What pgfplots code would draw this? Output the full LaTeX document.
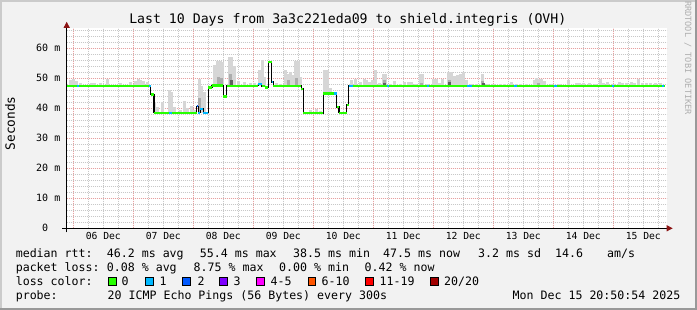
\documentclass[border=0pt]{standalone}
\usepackage{fontspec}
\setmonofont{DejaVu Sans Mono}
\usepackage{pgfplots}
\pgfplotsset{compat=1.18}
\usetikzlibrary{arrows.meta}
\definecolor{bg}{RGB}{242,242,242}
\definecolor{shadeA}{RGB}{203,203,203}
\definecolor{shadeB}{RGB}{153,153,153}
\definecolor{mgrid}{RGB}{232,160,160}
\definecolor{lgrid}{RGB}{200,200,200}
\definecolor{arrowred}{RGB}{140,20,20}
\definecolor{smokeL}{RGB}{214,214,214}
\definecolor{smokeM}{RGB}{172,172,172}
\definecolor{smokeD}{RGB}{95,95,95}
\definecolor{c0}{HTML}{26FF00}
\definecolor{c1}{HTML}{00B8FF}
\definecolor{c2}{HTML}{0059FF}
\definecolor{c3}{HTML}{7E00FF}
\definecolor{c45}{HTML}{FF00FF}
\definecolor{c610}{HTML}{FF5500}
\definecolor{c1119}{HTML}{FF0000}
\definecolor{c2020}{HTML}{A10000}
\definecolor{wm}{RGB}{175,175,175}
\newcommand\tf[1]{\ttfamily\fontsize{#1}{#1}\selectfont}
\begin{document}
\begin{tikzpicture}
\useasboundingbox (0,0) rectangle (697pt,310pt);
\fill[bg] (0,0) rectangle (697pt,310pt);
\fill[shadeA] (0,0) rectangle (2pt,310pt);
\fill[shadeA] (0,308pt) rectangle (697pt,310pt);
\fill[shadeB] (695pt,0) rectangle (697pt,310pt);
\fill[shadeB] (0,0) rectangle (697pt,2pt);
\begin{axis}[
  at={(66.7pt,81.7pt)}, anchor=south west, scale only axis,
  width=600pt, height=200pt,
  xmin=-0.11, xmax=9.89, ymin=0, ymax=66.67,
  axis lines=left,
  axis background/.style={fill=white},
  x axis line style={line width=1pt, -{Triangle[length=6pt,width=6pt,color=arrowred]}, shorten >=-6pt, shorten <=-4.5pt},
  y axis line style={line width=1pt, -{Triangle[length=6pt,width=6pt,color=arrowred]}, shorten >=-6.5pt, shorten <=-4pt},
  xtick={0,1,...,9}, xticklabels={},
  minor xtick={0,0.25,...,9.75},
  extra x ticks={0.5,1.5,...,9.5},
  extra x tick labels={06 Dec,07 Dec,08 Dec,09 Dec,10 Dec,11 Dec,12 Dec,13 Dec,14 Dec,15 Dec},
  extra x tick style={grid=none},
  ytick={0,10,...,60},
  yticklabels={{0\hphantom{mm}},10 m,20 m,30 m,40 m,50 m,60 m},
  minor ytick={2,4,...,66},
  xmajorgrids, xminorgrids, ymajorgrids, yminorgrids,
  major grid style={draw=mgrid, line width=1pt, dash pattern=on 1pt off 1pt},
  minor grid style={draw=lgrid, line width=1pt, dash pattern=on 1pt off 1pt},
  major tick length=0pt, minor tick length=0pt,
  tick style={draw=none},
  xticklabel style={anchor=base, yshift=-11.7pt, font=\tf{9.7}},
  yticklabel style={anchor=east, inner sep=0pt, xshift=-6.2pt, font=\tf{10}},
  unbounded coords=jump,
  clip=true,
]
% smoke: light
\addplot[draw=none, mark=none, forget plot,
  error bars/.cd, y dir=plus, y explicit, error mark=none,
  error bar style={draw=smokeL, line width=3pt}]
 table[x=x, y=y, y error=e] {
x y e
-0.05 47.5 2.0
0.00 47.5 2.4
0.05 47.5 1.5
0.12 47.5 1.0
0.30 47.5 0.8
0.36 47.5 1.0
0.45 47.5 0.9
0.57 47.5 2.4
0.78 47.5 1.0
0.95 47.5 1.3
1.04 47.5 1.5
1.08 47.5 2.4
1.12 47.5 1.8
1.17 47.5 1.5
1.23 47.5 1.2
1.36 38.5 3.6
1.40 38.5 2.0
1.49 38.5 3.6
1.60 38.5 7.7
1.64 38.5 7.0
1.69 38.5 1.9
1.78 38.5 1.0
1.86 38.5 3.8
1.91 38.5 1.5
1.97 38.5 2.4
2.02 38.5 1.0
2.10 38.5 11.4
2.14 38.5 9.0
2.19 38.5 7.1
2.36 47.5 6.9
2.41 47.5 8.3
2.45 47.5 8.3
2.49 47.5 8.0
2.60 47.5 9.6
2.64 47.5 9.6
2.69 47.5 6.5
2.75 47.5 1.5
2.85 47.5 1.4
2.95 47.5 1.0
3.02 47.5 0.8
3.10 47.5 5.2
3.16 47.5 8.5
3.19 47.5 3.0
3.38 47.5 0.8
3.45 47.5 0.6
3.53 47.5 5.2
3.57 47.5 4.1
3.62 47.5 4.5
3.67 47.5 3.5
3.71 47.5 8.3
3.75 47.5 8.3
3.79 47.5 2.9
3.95 38.4 1.0
4.05 38.4 1.3
4.12 38.4 0.8
4.19 44.9 7.8
4.23 44.9 7.8
4.28 44.9 2.0
4.63 47.5 1.9
4.70 47.5 2.4
4.78 47.5 1.2
4.85 47.5 2.4
4.89 47.5 1.8
4.93 47.5 1.3
4.99 47.5 1.8
5.03 47.5 5.4
5.10 47.5 0.8
5.17 47.5 4.1
5.20 47.5 4.1
5.28 47.5 0.6
5.36 47.5 1.6
5.45 47.5 0.7
5.52 47.5 1.3
5.58 47.5 1.2
5.63 47.5 1.3
5.70 47.5 0.6
5.78 47.5 4.0
5.82 47.5 4.0
5.90 47.5 0.7
6.00 47.5 2.4
6.05 47.5 2.4
6.10 47.5 0.8
6.16 47.5 2.4
6.25 47.5 4.6
6.30 47.5 4.6
6.35 47.5 3.3
6.40 47.5 3.5
6.45 47.5 3.8
6.50 47.5 4.7
6.55 47.5 2.0
6.63 47.5 0.7
6.72 47.5 0.5
6.82 47.5 4.0
6.90 47.5 0.6
7.00 47.5 0.5
7.12 47.5 0.7
7.18 47.5 0.7
7.30 47.5 1.3
7.38 47.5 0.5
7.45 47.5 0.7
7.55 47.5 0.7
7.68 47.5 2.0
7.72 47.5 2.6
7.76 47.5 2.3
7.81 47.5 2.3
7.86 47.5 1.5
7.97 47.5 0.7
8.10 47.5 0.5
8.25 47.5 1.8
8.38 47.5 1.0
8.44 47.5 0.8
8.50 47.5 1.0
8.60 47.5 0.8
8.70 47.5 0.5
8.78 47.5 2.4
8.83 47.5 1.0
8.90 47.5 1.4
9.00 47.5 0.6
9.10 47.5 1.2
9.16 47.5 1.0
9.22 47.5 1.0
9.30 47.5 1.3
9.36 47.5 0.8
9.42 47.5 2.4
9.48 47.5 1.0
9.55 47.5 0.8
9.62 47.5 1.0
9.70 47.5 0.8
9.78 47.5 0.8
};
% smoke: medium
\addplot[draw=none, mark=none, forget plot,
  error bars/.cd, y dir=plus, y explicit, error mark=none,
  error bar style={draw=smokeM, line width=3pt}]
 table[x=x, y=y, y error=e] {
x y e
2.10 38.5 5.0
2.42 47.5 3.0
2.47 47.5 2.5
2.62 47.5 4.0
3.58 47.5 2.0
3.72 47.5 2.5
5.18 47.5 2.0
5.80 47.5 1.0
6.27 47.5 2.0
6.82 47.5 1.5
7.75 47.5 0.8
};
% smoke: dark
\addplot[draw=none, mark=none, forget plot,
  error bars/.cd, y dir=plus, y explicit, error mark=none,
  error bar style={draw=smokeD, line width=3pt}]
 table[x=x, y=y, y error=e] {
x y e
2.63 47.5 2.0
5.19 47.5 1.0
6.27 47.5 1.2
6.83 47.5 0.8
};
% median, black steps
\addplot[black, line width=1.2pt, const plot mark left, mark=none] table {
x y
-0.11 47.5
1.29 44.6
1.345 38.5
2.057 40.7
2.083 38.5
2.117 39.8
2.167 38.5
2.25 46.9
2.312 47.6
2.50 43.9
2.557 47.5
3.083 48.1
3.14 47.4
3.20 46.9
3.25 55.4
3.307 48.8
3.333 47.5
3.80 46.5
3.833 38.4
4.167 44.9
4.39 40.4
4.428 38.5
4.557 41.1
4.59 47.5
9.86 47.5
};
% median, loss colour 0
\addplot[c0, line width=2.4pt, jump mark left, mark=none] table {
x y
-0.11 47.5
1.29 44.6
1.345 38.5
2.057 40.7
2.083 38.5
2.117 39.8
2.167 38.5
2.25 46.9
2.312 47.6
2.50 43.9
2.557 47.5
3.083 48.1
3.14 47.4
3.20 46.9
3.25 55.4
3.307 48.8
3.333 47.5
3.80 46.5
3.833 38.4
4.167 44.9
4.39 40.4
4.428 38.5
4.557 41.1
4.59 47.5
9.86 47.5
};
% median, loss colour 1
\addplot[c1, line width=2.4pt, mark=none] coordinates {
(0.067,47.5) (0.095,47.5) (0.1,nan)
(1.262,47.5) (1.29,47.5) (1.3,nan)
(1.60,38.5) (1.64,38.5) (1.65,nan)
(2.083,38.5) (2.117,38.5) (2.12,nan)
(2.117,39.8) (2.167,39.8) (2.17,nan)
(2.167,38.5) (2.25,38.5) (2.26,nan)
(3.083,48.1) (3.14,48.1) (3.15,nan)
(3.307,48.8) (3.333,48.8) (3.34,nan)
(4.35,44.9) (4.39,44.9) (4.4,nan)
(4.59,47.5) (4.667,47.5) (4.67,nan)
(5.233,47.5) (5.267,47.5) (5.27,nan)
(5.89,47.5) (5.928,47.5) (5.93,nan)
(6.567,47.5) (6.64,47.5) (6.65,nan)
(7.345,47.5) (7.39,47.5) (7.4,nan)
(8.012,47.5) (8.057,47.5) (8.06,nan)
(8.973,47.5) (9.012,47.5) (9.02,nan)
(9.807,47.5) (9.845,47.5)
};
% median, loss colour 2
\addplot[c2, line width=2.4pt, mark=none] coordinates {
(2.057,40.7) (2.083,40.7)
};
\end{axis}
% title and labels
\node[anchor=base, inner sep=0pt, font=\tf{13.2}] at (347.8pt,286.1pt) {Last 10 Days from 3a3c221eda09 to shield.integris (OVH)};
\node[anchor=base, inner sep=0pt, rotate=90, font=\tf{12.8}] at (15pt,186.7pt) {Seconds};
\node[anchor=base, inner sep=0pt, rotate=-90, text=wm, font=\tf{8.6}] at (685pt,252pt) {RRDTOOL / TOBI OETIKER};
% legend rows
\tikzset{lg/.style={anchor=base west, inner sep=0pt, font=\tf{11.6}}}
\node[lg] at (15.6pt,52.3pt) {median rtt:};
\node[lg] at (106.7pt,52.3pt) {46.2 ms avg};
\node[lg] at (199.7pt,52.3pt) {55.4 ms max};
\node[lg] at (293pt,52.3pt) {38.5 ms min};
\node[lg] at (383pt,52.3pt) {47.5 ms now};
\node[lg] at (478pt,52.3pt) {3.2 ms sd};
\node[lg] at (555pt,52.3pt) {14.6};
\node[lg] at (607pt,52.3pt) {am/s};
\node[lg] at (15.6pt,38.2pt) {packet loss:};
\node[lg] at (106.7pt,38.2pt) {0.08 \% avg};
\node[lg] at (193.5pt,38.2pt) {8.75 \% max};
\node[lg] at (279pt,38.2pt) {0.00 \% min};
\node[lg] at (364.5pt,38.2pt) {0.42 \% now};
\node[lg] at (15.6pt,24.1pt) {loss color:};
\filldraw[fill=c0, draw=black, line width=0.8pt] (108.4pt,24.4pt) rectangle (116.2pt,32.2pt);
\filldraw[fill=c1, draw=black, line width=0.8pt] (145.7pt,24.4pt) rectangle (153.5pt,32.2pt);
\filldraw[fill=c2, draw=black, line width=0.8pt] (182.4pt,24.4pt) rectangle (190.2pt,32.2pt);
\filldraw[fill=c3, draw=black, line width=0.8pt] (219.4pt,24.4pt) rectangle (227.2pt,32.2pt);
\filldraw[fill=c45, draw=black, line width=0.8pt] (256.8pt,24.4pt) rectangle (264.6pt,32.2pt);
\filldraw[fill=c610, draw=black, line width=0.8pt] (308pt,24.4pt) rectangle (315.8pt,32.2pt);
\filldraw[fill=c1119, draw=black, line width=0.8pt] (365.7pt,24.4pt) rectangle (373.5pt,32.2pt);
\filldraw[fill=c2020, draw=black, line width=0.8pt] (430.6pt,24.4pt) rectangle (438.4pt,32.2pt);
\node[lg] at (121.5pt,24.1pt) {0};
\node[lg] at (159.5pt,24.1pt) {1};
\node[lg] at (197.3pt,24.1pt) {2};
\node[lg] at (233.5pt,24.1pt) {3};
\node[lg] at (270.5pt,24.1pt) {4-5};
\node[lg] at (321.5pt,24.1pt) {6-10};
\node[lg] at (379.5pt,24.1pt) {11-19};
\node[lg] at (444pt,24.1pt) {20/20};
\node[lg] at (15.6pt,10pt) {probe:};
\node[lg] at (107.5pt,10pt) {20 ICMP Echo Pings (56 Bytes) every 300s};
\node[anchor=base east, inner sep=0pt, font=\tf{11.6}] at (680.5pt,10pt) {Mon Dec 15 20:50:54 2025};
\end{tikzpicture}
\end{document}
